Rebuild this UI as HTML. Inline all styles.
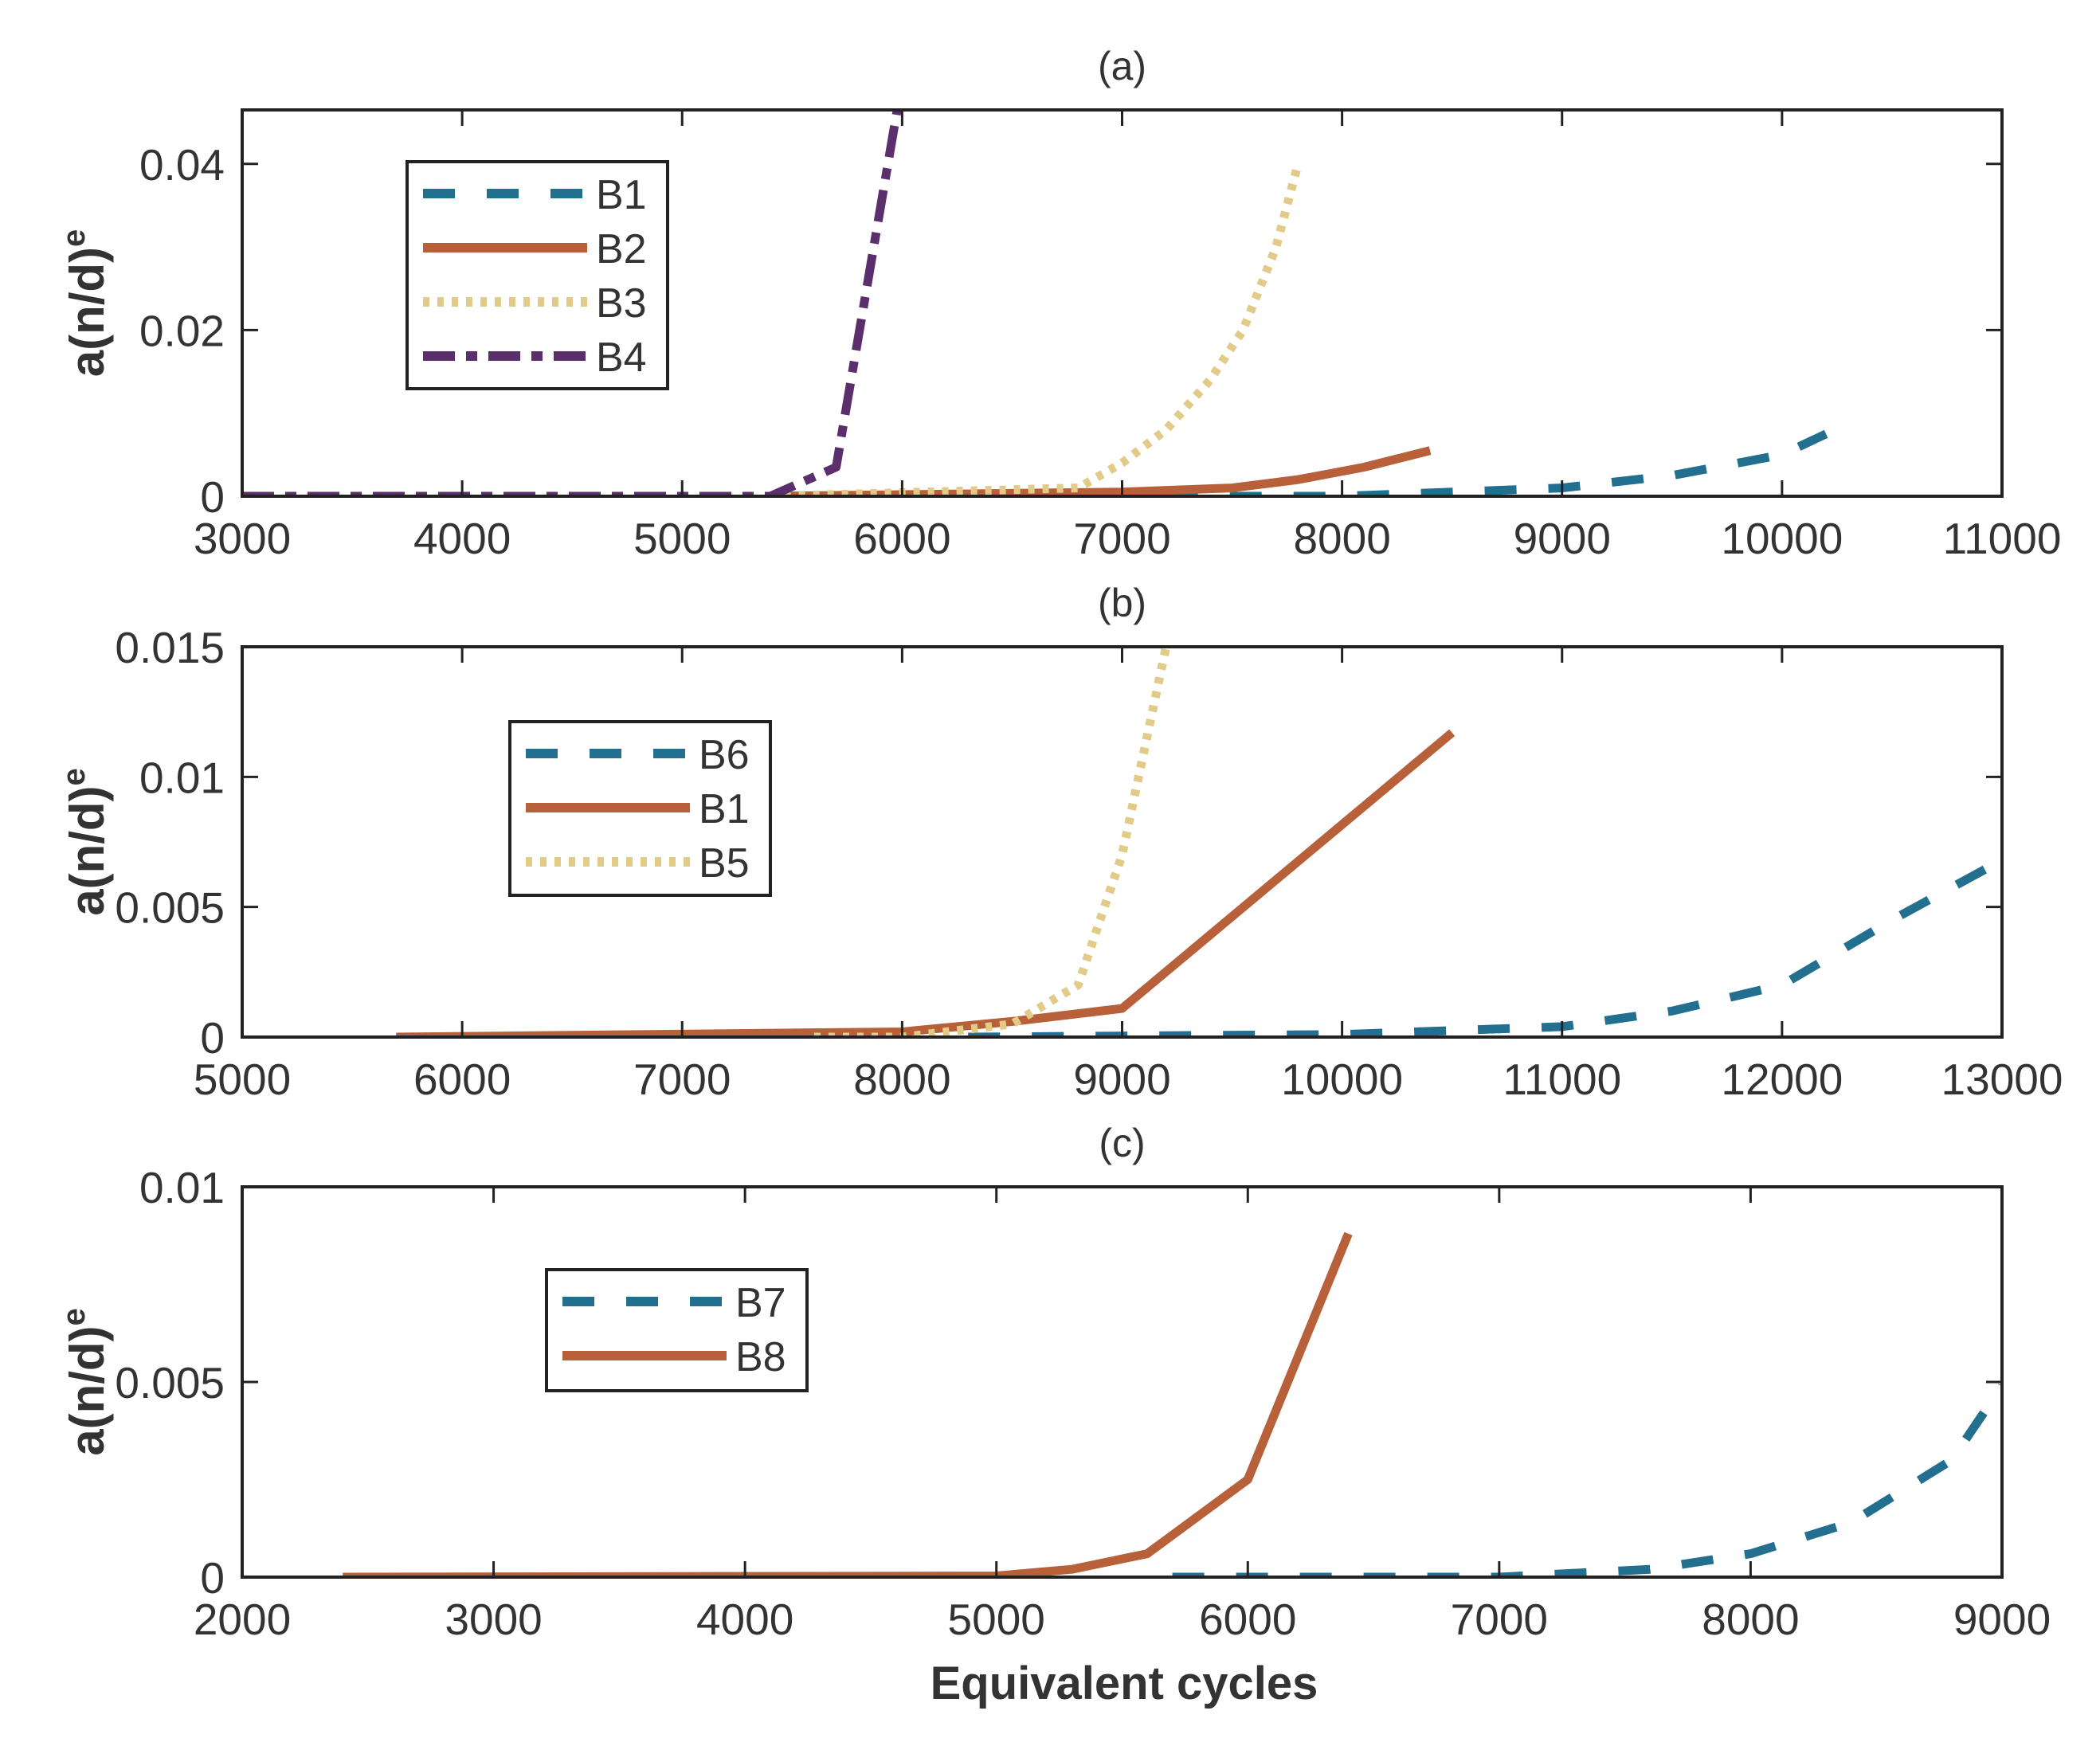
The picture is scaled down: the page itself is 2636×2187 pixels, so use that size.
<!DOCTYPE html>
<html><head><meta charset="utf-8"><style>
body{margin:0;background:#fff}
svg{display:block}
text{font-family:"Liberation Sans",sans-serif;fill:#333}
</style></head><body>
<svg id="chart" width="2636" height="2187" viewBox="0 0 2636 2187"></svg>
<script>
// Panel (a)
const aTicksX=[3000,4000,5000,6000,7000,8000,9000,10000,11000];
const aTicksY=[0,0.02,0.04];
const aTickLabelsY=["0","0.02","0.04"];
const aB1x=[7200,8000,9000,9500,10000,10200];
const aB1y=[0,0,0.001,0.0025,0.005,0.0075];
const aB2x=[5400,7000,7500,7800,8100,8400];
const aB2y=[0,0.0005,0.001,0.002,0.0035,0.0055];
const aB3x=[5400,6800,7000,7200,7400,7550,7700,7800];
const aB3y=[0,0.001,0.004,0.008,0.014,0.02,0.03,0.04];
const aB4x=[3000,5400,5700,6000];
const aB4y=[0,0,0.0035,0.05];
// Panel (b)
const bTicksX=[5000,6000,7000,8000,9000,10000,11000,12000,13000];
const bTicksY=[0,0.005,0.01,0.015];
const bTickLabelsY=["0","0.005","0.01","0.015"];
const bB6x=[8300,10000,11000,11500,12000,12500,13000];
const bB6y=[0,0.0001,0.0004,0.001,0.002,0.0045,0.0068];
const bB1x=[5700,8000,8500,9000,10500];
const bB1y=[0,0.0002,0.0006,0.0011,0.0117];
const bB5x=[7600,8000,8500,8800,9000,9200];
const bB5y=[0,0,0.0005,0.002,0.007,0.015];
// Panel (c)
const cTicksX=[2000,3000,4000,5000,6000,7000,8000,9000];
const cTicksY=[0,0.005,0.01];
const cTickLabelsY=["0","0.005","0.01"];
const cB7x=[5700,7000,7600,8000,8400,8800,9000];
const cB7y=[0,0,0.0002,0.0006,0.0014,0.003,0.0049];
const cB8x=[2400,5000,5300,5600,6000,6400];
const cB8y=[0,0.00003,0.0002,0.0006,0.0025,0.0088];

const NS="http://www.w3.org/2000/svg";
const svg=document.getElementById('chart');
function mk(tag,attrs,parent){const e=document.createElementNS(NS,tag);for(const k in attrs)e.setAttribute(k,attrs[k]);(parent||svg).appendChild(e);return e;}
const STY={
 blue:{stroke:"#236f8f",dash:"40 40"},
 orange:{stroke:"#b8603a",dash:""},
 yellow:{stroke:"#e2cb88",dash:"8 10"},
 purple:{stroke:"#5a2f6c",dash:"40 14 14 14"}
};
function panel(id,title,L,R,T,B,xmin,xmax,ymax,ticksX,ticksY,tickLabelsY,series,legend){
 const g=mk('g',{});
 
 
 const sx=v=>L+(v-xmin)/(xmax-xmin)*(R-L);
 const sy=v=>B-(v/ymax)*(B-T);
 const t=mk('text',{x:(L+R)/2,y:T-38,'text-anchor':'middle','font-size':50},g);t.textContent=title;
 
 
 const clip=mk('clipPath',{id:'clip'+id},g);mk('rect',{x:L,y:T,width:R-L,height:B-T},clip);
 const sg=mk('g',{'clip-path':'url(#clip'+id+')'},g);
 series.forEach(s=>{
  const st=STY[s.c];
  const p=mk('polyline',{points:s.x.map((v,i)=>sx(v)+','+sy(s.y[i])).join(' '),fill:'none',stroke:st.stroke,'stroke-width':11,'stroke-dasharray':st.dash,'stroke-linejoin':'round'},sg);
  
  
 });
 const box=mk('rect',{x:L,y:T,width:R-L,height:B-T,fill:'none',stroke:'#222','stroke-width':4},g);
 
 
 ticksX.forEach(v=>{
  const x=sx(v);
  mk('line',{x1:x,x2:x,y1:B,y2:B-20,stroke:'#222','stroke-width':3},g);
  mk('line',{x1:x,x2:x,y1:T,y2:T+20,stroke:'#222','stroke-width':3},g);
  const tl=mk('text',{x:x,y:B+72,'text-anchor':'middle','font-size':55},g);tl.textContent=v;
  
  
 });
 ticksY.forEach((v,i)=>{
  const y=sy(v);
  mk('line',{x1:L,x2:L+20,y1:y,y2:y,stroke:'#222','stroke-width':3},g);
  mk('line',{x1:R,x2:R-20,y1:y,y2:y,stroke:'#222','stroke-width':3},g);
  const tl=mk('text',{x:L-22,y:y+20,'text-anchor':'end','font-size':55},g);tl.textContent=tickLabelsY[i];
  
  
 });
 const yl=mk('text',{x:0,y:0,'text-anchor':'middle','font-size':60,'font-weight':'bold',transform:`translate(130,${(T+B)/2}) rotate(-90)`},g);
 
 
 yl.innerHTML='a(n/d)<tspan dy="-24" font-size="40">e</tspan>';
 const lg=mk('g',{},g);
 
 
 const rowH=68,lx=legend.x,ly=legend.y,lw=327,lh=legend.h;
 mk('rect',{x:lx,y:ly,width:lw,height:lh,fill:'#fff',stroke:'#222','stroke-width':4},lg);
 series.forEach((s,i)=>{
  const st=STY[s.c];const y=ly+40+i*rowH;
  const e=mk('g',{},lg);
  
  
  mk('line',{x1:lx+20,x2:lx+226,y1:y,y2:y,stroke:st.stroke,'stroke-width':12,'stroke-dasharray':st.dash},e);
  const tx=mk('text',{x:lx+237,y:y+19,'font-size':52,fill:'#111'},e);tx.textContent=s.n;
 });
}
panel('a','(a)',304,2513,138,623,3000,11000,0.0465,aTicksX,aTicksY,aTickLabelsY,
 [{n:'B1',c:'blue',x:aB1x,y:aB1y},{n:'B2',c:'orange',x:aB2x,y:aB2y},{n:'B3',c:'yellow',x:aB3x,y:aB3y},{n:'B4',c:'purple',x:aB4x,y:aB4y}],
 {x:511,y:203,h:285});
panel('b','(b)',304,2513,812,1302,5000,13000,0.015,bTicksX,bTicksY,bTickLabelsY,
 [{n:'B6',c:'blue',x:bB6x,y:bB6y},{n:'B1',c:'orange',x:bB1x,y:bB1y},{n:'B5',c:'yellow',x:bB5x,y:bB5y}],
 {x:640,y:906,h:218});
panel('c','(c)',304,2513,1490,1980,2000,9000,0.01,cTicksX,cTicksY,cTickLabelsY,
 [{n:'B7',c:'blue',x:cB7x,y:cB7y},{n:'B8',c:'orange',x:cB8x,y:cB8y}],
 {x:686,y:1594,h:152});
const xl=mk('text',{x:1411,y:2133,'text-anchor':'middle','font-size':58,'font-weight':'bold'});
xl.textContent='Equivalent cycles';


</script>
</body></html>
